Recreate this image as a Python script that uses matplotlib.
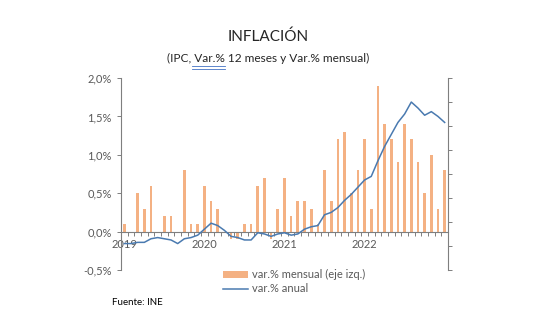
import numpy as np
import matplotlib
matplotlib.use("Agg")
import matplotlib.pyplot as plt
from matplotlib.lines import Line2D
from matplotlib.patches import Patch

plt.rcParams['font.family'] = ['Lato', 'DejaVu Sans']

# IPC Chile, enero 2019 - enero 2023
mensual = [
    0.1, 0.0, 0.5, 0.3, 0.6, 0.0, 0.2, 0.2, 0.0, 0.8, 0.1, 0.1,
    0.6, 0.4, 0.3, 0.0, -0.1, -0.1, 0.1, 0.1, 0.6, 0.7, -0.1, 0.3,
    0.7, 0.2, 0.4, 0.4, 0.3, 0.1, 0.8, 0.4, 1.2, 1.3, 0.5, 0.8,
    1.2, 0.3, 1.9, 1.4, 1.2, 0.9, 1.4, 1.2, 0.9, 0.5, 1.0, 0.3,
    0.8,
]
anual = [
    2.2, 2.2, 2.3, 2.3, 2.6, 2.7, 2.6, 2.5, 2.2, 2.6, 2.7, 2.9,
    3.4, 3.9, 3.7, 3.3, 2.8, 2.7, 2.5, 2.5, 3.1, 3.0, 2.8, 3.0,
    3.1, 2.9, 3.0, 3.4, 3.6, 3.7, 4.6, 4.8, 5.2, 5.8, 6.3, 6.9,
    7.5, 7.8, 9.1, 10.3, 11.3, 12.3, 13.0, 14.0, 13.5, 12.9, 13.2, 12.8,
    12.3,
]
anios = ['2019', '2020', '2021', '2022']

BAR = '#f4b183'
LINE = '#4a7ab0'
GRIS = '#595959'

x = np.arange(len(mensual))

fig = plt.figure(figsize=(5.6, 3.28), dpi=100)
ax = fig.add_axes([0.216, 0.177, 0.584, 0.585])
ax2 = ax.twinx()

ax.bar(x, mensual, width=0.4, color=BAR, zorder=2)
ax.set_xlim(-0.5, len(x) - 0.5)
ax.set_ylim(-0.5, 2.0)
ax.set_yticks([-0.5, 0, 0.5, 1.0, 1.5, 2.0])
ax.set_yticklabels(['-0,5%', '0,0%', '0,5%', '1,0%', '1,5%', '2,0%'])

ax.spines['top'].set_visible(False)
ax.spines['right'].set_visible(False)
ax.spines['bottom'].set_position(('data', 0))
for s in ('left', 'bottom'):
    ax.spines[s].set_color('#7f7f7f')
    ax.spines[s].set_linewidth(0.8)

ax.set_xticks(x[:48:12])
ax.set_xticklabels(anios)
ax.set_xticks(np.arange(-0.5, len(x), 1), minor=True)
ax.tick_params(axis='x', which='major', length=0, pad=5, labelsize=8, labelcolor=GRIS)
ax.tick_params(axis='x', which='minor', length=3, color='#7f7f7f', width=0.7)
ax.tick_params(axis='y', length=3, color='#7f7f7f', width=0.7, labelsize=8, labelcolor=GRIS)

ax2.plot(x, anual, color=LINE, lw=1.1, zorder=3)
ax2.set_ylim(0, 16)
ax2.set_yticks(np.arange(0, 17, 2))
ax2.tick_params(axis='y', length=3, color='#7f7f7f', width=0.7, labelright=False)
for s in ('top', 'left', 'bottom'):
    ax2.spines[s].set_visible(False)
ax2.spines['right'].set_color('#7f7f7f')
ax2.spines['right'].set_linewidth(0.8)

fig.text(0.479, 0.887, 'INFLACIÓN', ha='center', va='center', fontsize=11, color='#262626')
fig.text(0.479, 0.823, '(IPC, Var.% 12 meses y Var.% mensual)', ha='center', va='center',
         fontsize=8.6, color='#262626')
# doble subrayado azul bajo "Var.%"
for yy in (0.799, 0.791):
    fig.add_artist(Line2D([0.343, 0.401], [yy, yy], color='#4472c4', lw=0.6))

handles = [Patch(facecolor=BAR, edgecolor='none'), Line2D([], [], color=LINE, lw=1.1)]
fig.legend(handles, ['var.% mensual (eje izq.)', 'var.% anual'],
           loc='upper left', bbox_to_anchor=(0.388, 0.197), frameon=False,
           fontsize=8, handlelength=2.3, handleheight=0.6, handletextpad=0.35,
           labelspacing=0.3, borderpad=0, labelcolor=GRIS)

fig.text(0.2, 0.079, 'Fuente: INE', ha='left', va='center', fontsize=7, color='black')

fig.savefig('out.png', dpi=100, facecolor='white')
